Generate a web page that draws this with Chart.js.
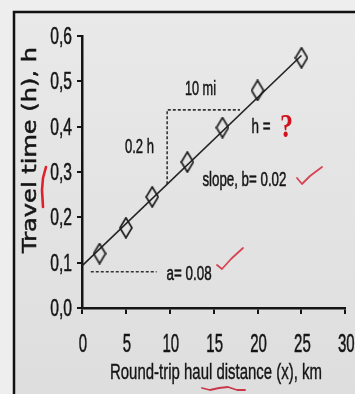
<!DOCTYPE html>
<html lang="en">
<head>
<meta charset="utf-8">
<script src="https://cdn.jsdelivr.net/npm/chart.js@4.4.1/dist/chart.umd.min.js"></script>
<style>
    html, body { margin: 0; padding: 0; background: #ededed; }
    canvas { display: block; }
</style>
</head>
<body>
<canvas id="chart" width="355" height="394"></canvas>
<script>
// values
var distKm = [2, 5, 8, 12, 16, 20, 25];
var timeH = [0.12, 0.177, 0.245, 0.322, 0.398, 0.48, 0.552];
// fitted line h = a + b x
var fitX = [0, 25];
var fitY = [0.093, 0.557];
// dotted guide for the intercept a
var guideAX = [1, 8.5];
var guideAY = [0.08, 0.08];
// dotted slope triangle
var triX = [9.7, 9.7, 18];
var triY = [0.273, 0.437, 0.437];

var xTicks = [0, 5, 10, 15, 20, 25, 30];
var xTickLabels = ['0', '5', '10', '15', '20', '25', '30'];
var yTicks = [0, 0.1, 0.2, 0.3, 0.4, 0.5, 0.6];
var yTickLabels = ['0,0', '0,1', '0,2', '0,3', '0,4', '0,5', '0,6'];

var xTitle = 'Round-trip haul distance (x), km';
var yTitle = 'Travel time (h), h';

// annotation texts, anchored in data units
var notes = [
    {text: '10 mi', x: 13.5, y: 0.47, w: 31},
    {text: '0.2 h', x: 6.55, y: 0.342, w: 29},
    {text: 'h =', x: 20.4, y: 0.386, w: 19},
    {text: 'slope, b= 0.02', x: 18.5, y: 0.269, w: 84},
    {text: 'a= 0.08', x: 12.2, y: 0.062, w: 45}
];

function pairs(xs, ys) {
    var out = [];
    for (var i = 0; i < xs.length; i++) out.push({x: xs[i], y: ys[i]});
    return out;
}

// tall thin diamond marker
var diamond = document.createElement('canvas');
diamond.width = 14;
diamond.height = 22;
(function () {
    var c = diamond.getContext('2d');
    c.strokeStyle = '#1e1e1e';
    c.lineWidth = 1.7;
    c.beginPath();
    c.moveTo(7, 1); c.lineTo(13, 11); c.lineTo(7, 21); c.lineTo(1, 11);
    c.closePath();
    c.stroke();
})();

// draws text squeezed horizontally (the source font is very narrow)
function squeeze(ctx, txt, x, y, o) {
    ctx.save();
    ctx.font = o.font;
    ctx.fillStyle = o.color || '#151515';
    ctx.strokeStyle = o.color || '#151515';
    ctx.textAlign = 'left';
    ctx.textBaseline = 'alphabetic';
    var w = ctx.measureText(txt).width;
    var sx = o.width ? o.width / w : (o.sx || 1);
    ctx.translate(x, y);
    if (o.rotate) ctx.rotate(o.rotate);
    ctx.scale(sx, 1);
    var off = o.align === 'right' ? -w : (o.align === 'left' ? 0 : -w / 2);
    ctx.fillText(txt, off, 0);
    if (o.bold) {
        ctx.lineWidth = o.bold;
        ctx.strokeText(txt, off, 0);
    }
    ctx.restore();
}

function redStroke(ctx, pts, width, color) {
    ctx.save();
    ctx.strokeStyle = color;
    ctx.lineWidth = width;
    ctx.lineCap = 'round';
    ctx.lineJoin = 'round';
    ctx.beginPath();
    ctx.moveTo(pts[0][0], pts[0][1]);
    for (var i = 1; i < pts.length; i++) ctx.lineTo(pts[i][0], pts[i][1]);
    ctx.stroke();
    ctx.restore();
}

var backdrop = {
    id: 'backdrop',
    beforeDraw: function (chart) {
        var ctx = chart.ctx;
        ctx.save();
        ctx.fillStyle = '#eeeeee';
        ctx.fillRect(0, 0, 355, 394);
        var g = ctx.createLinearGradient(0, 12, 0, 394);
        g.addColorStop(0, '#e9e9e9');
        g.addColorStop(1, '#dedede');
        ctx.fillStyle = g;
        ctx.fillRect(14, 12, 341, 382);
        ctx.strokeStyle = '#111';
        ctx.lineWidth = 2.5;
        ctx.beginPath();
        ctx.moveTo(14, 394); ctx.lineTo(14, 12); ctx.lineTo(356, 12);
        ctx.stroke();
        ctx.restore();
    }
};

var labels = {
    id: 'labels',
    afterDraw: function (chart) {
        var ctx = chart.ctx;
        var sx = chart.scales.x, sy = chart.scales.y;
        var i;
        for (i = 0; i < yTicks.length; i++) {
            squeeze(ctx, yTickLabels[i], 72, sy.getPixelForValue(yTicks[i]) + 8,
                {font: '23px "Liberation Sans", Arial, sans-serif', sx: 0.68, align: 'right', bold: 0.5});
        }
        for (i = 0; i < xTicks.length; i++) {
            squeeze(ctx, xTickLabels[i], sx.getPixelForValue(xTicks[i]) + 1, 352,
                {font: '25px "Liberation Sans", Arial, sans-serif', sx: 0.6, bold: 0.5});
        }
        squeeze(ctx, xTitle, 216, 379, {font: '22px "Liberation Sans", Arial, sans-serif', width: 212, bold: 0.4});
        squeeze(ctx, yTitle, 36, 150, {font: '19px "DejaVu Sans", sans-serif', width: 206, rotate: -Math.PI / 2, bold: 0.5});

        notes.forEach(function (n) {
            squeeze(ctx, n.text, sx.getPixelForValue(n.x), sy.getPixelForValue(n.y),
                {font: '20px "Liberation Sans", Arial, sans-serif', width: n.w, bold: 0.5});
        });
        // the red question mark
        squeeze(ctx, '?', sx.getPixelForValue(23.3), sy.getPixelForValue(0.377),
            {font: 'bold 33px "Liberation Serif", serif', width: 13, color: '#d0121f'});

        // hand-drawn red marks
        redStroke(ctx, [[46, 167], [43, 178], [42, 190], [43, 207]], 2.6, '#e0202c');
        redStroke(ctx, [[297, 178], [302, 184], [310, 176], [322, 167]], 1.8, '#d84454');
        redStroke(ctx, [[217, 265], [222, 269], [231, 259], [243, 248]], 1.8, '#d84454');
        redStroke(ctx, [[202, 388], [210, 390], [219, 388], [228, 387], [237, 390], [245, 390]], 1.8, '#c83848');
    }
};

new Chart(document.getElementById('chart'), {
    type: 'scatter',
    data: {
        datasets: [{
            label: 'observed',
            data: pairs(distKm, timeH),
            pointStyle: diamond,
            pointRadius: 8,
            clip: false,
            order: 0
        }, {
            label: 'fit',
            data: pairs(fitX, fitY),
            showLine: true,
            borderColor: '#222',
            borderWidth: 1.6,
            pointRadius: 0,
            order: 1
        }, {
            label: 'a',
            data: pairs(guideAX, guideAY),
            showLine: true,
            borderColor: '#333',
            borderWidth: 1.6,
            borderDash: [3, 2],
            pointRadius: 0,
            order: 2
        }, {
            label: 'triangle',
            data: pairs(triX, triY),
            showLine: true,
            borderColor: '#333',
            borderWidth: 1.6,
            borderDash: [3, 2],
            pointRadius: 0,
            order: 2
        }]
    },
    options: {
        responsive: false,
        animation: false,
        devicePixelRatio: 1,
        layout: {padding: {top: 36, right: 7, left: 0, bottom: 0}},
        plugins: {legend: {display: false}, tooltip: {enabled: false}},
        scales: {
            x: {
                type: 'linear', min: 0, max: 30,
                afterBuildTicks: function (s) { s.ticks = xTicks.map(function (v) { return {value: v}; }); },
                afterFit: function (s) { s.height = 86; },
                ticks: {color: 'rgba(0,0,0,0)'},
                grid: {drawOnChartArea: false, tickLength: 6, color: '#151515', lineWidth: 2},
                border: {color: '#151515', width: 2.5}
            },
            y: {
                type: 'linear', min: 0, max: 0.6,
                afterBuildTicks: function (s) { s.ticks = yTicks.map(function (v) { return {value: v}; }); },
                afterFit: function (s) { s.width = 82; },
                ticks: {color: 'rgba(0,0,0,0)'},
                grid: {drawOnChartArea: false, tickLength: 5, color: '#151515', lineWidth: 2},
                border: {color: '#151515', width: 2.5}
            }
        }
    },
    plugins: [backdrop, labels]
});
</script>
</body>
</html>
